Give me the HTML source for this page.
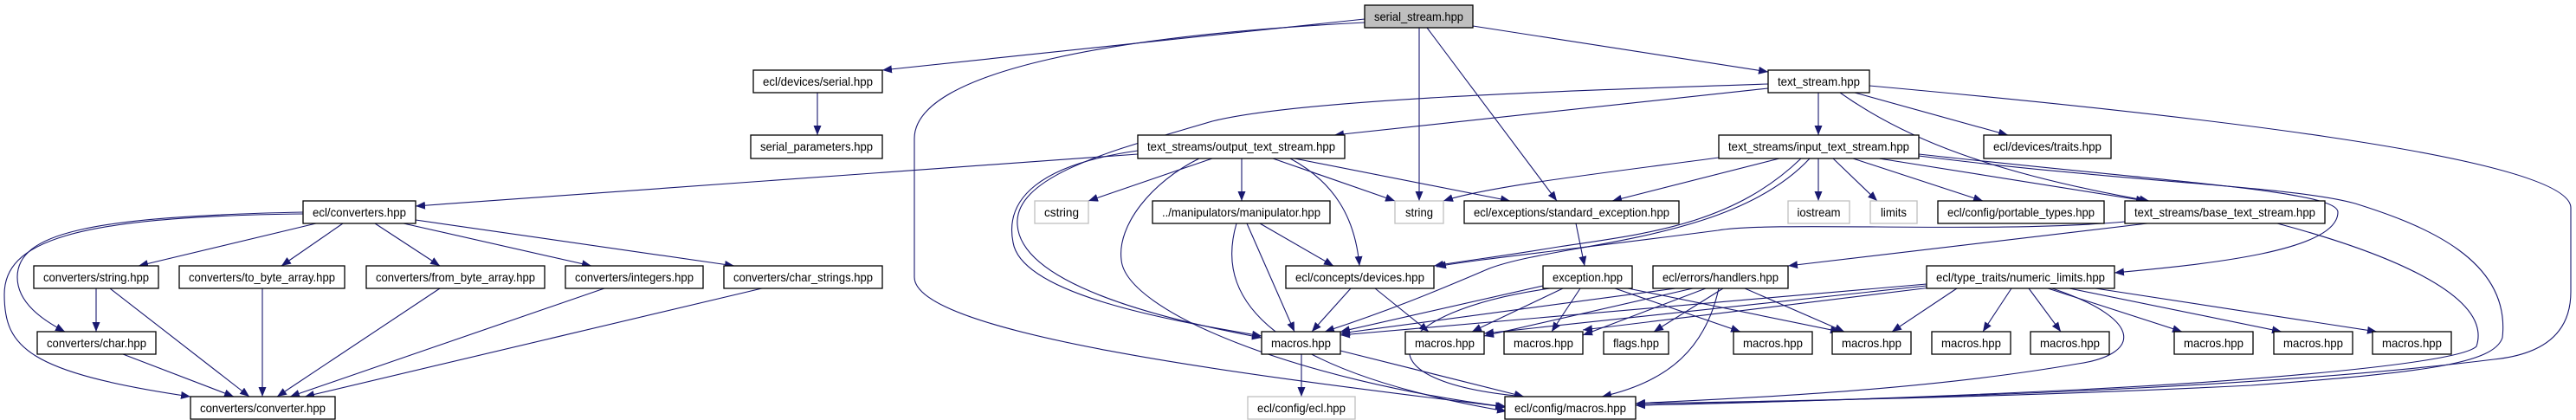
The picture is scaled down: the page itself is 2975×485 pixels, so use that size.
<!DOCTYPE html>
<html><head><meta charset="utf-8"><style>
html,body{margin:0;padding:0;background:#fff;}
svg{display:block;}
text{font-family:"Liberation Sans",sans-serif;font-size:14px;fill:#000;}
.n{fill:#fff;stroke:#000;stroke-width:1.3;}
.g{fill:#fff;stroke:#bfbfbf;stroke-width:1.3;}
.e{fill:none;stroke:#191970;stroke-width:1.1;marker-end:url(#a);}
</style></head><body>
<svg width="2975" height="485" viewBox="0 0 2975 485" xmlns="http://www.w3.org/2000/svg">
<defs><marker id="a" markerUnits="userSpaceOnUse" markerWidth="12" markerHeight="9" refX="11" refY="4.5" orient="auto"><path d="M0,0 L11,4.5 L0,9 z" fill="#191970"/></marker></defs>
<g>
<!-- edges -->
<path class="e" d="M1576,22 L1019,81"/>
<path class="e" d="M1576,26 C1300,40 1056,80 1056,160 L1056,320 C1056,390 1500,440 1738,470"/>
<path class="e" d="M1701,30 L2042,83"/>
<path class="e" d="M1639,32 L1639,232"/>
<path class="e" d="M1648,32 L1798,232"/>
<path class="e" d="M2042,102 L1541,156"/>
<path class="e" d="M2042,97 C1800,105 1500,115 1400,140 C1300,170 1170,200 1175,260 C1180,330 1350,370 1457,390"/>
<path class="e" d="M2100,107 L2100,156"/>
<path class="e" d="M2142,107 L2319,156"/>
<path class="e" d="M2125,107 C2200,160 2300,200 2482,232"/>
<path class="e" d="M2159,99 C2500,130 2969,180 2969,240 L2969,337 C2969,390 2930,410 2880,415 C2600,450 2200,460 1889,468"/>
<path class="e" d="M1314,178 L480,238"/>
<path class="e" d="M1400,183 L1257,232"/>
<path class="e" d="M1434,183 L1434,232"/>
<path class="e" d="M1470,183 L1611,232"/>
<path class="e" d="M1495,183 L1744,232"/>
<path class="e" d="M1490,183 C1540,210 1565,250 1570,307"/>
<path class="e" d="M1314,174 C1200,190 1160,230 1170,280 C1180,340 1350,370 1457,388"/>
<path class="e" d="M1385,183 C1330,210 1290,260 1295,300 C1300,360 1500,440 1740,470"/>
<path class="e" d="M1455,258 L1540,307"/>
<path class="e" d="M1440,258 L1495,383"/>
<path class="e" d="M1428,258 C1410,320 1420,420 1740,475"/>
<path class="e" d="M365,258 L160,307"/>
<path class="e" d="M396,258 L325,307"/>
<path class="e" d="M433,258 L508,307"/>
<path class="e" d="M466,258 L683,307"/>
<path class="e" d="M480,254 L848,307"/>
<path class="e" d="M350,245 C100,250 20,270 20,320 C20,350 50,370 75,383"/>
<path class="e" d="M350,247 C80,250 5,280 5,340 C5,400 30,430 220,458"/>
<path class="e" d="M111,333 L111,383"/>
<path class="e" d="M127,333 L288,458"/>
<path class="e" d="M303,333 L303,458"/>
<path class="e" d="M508,333 L320,458"/>
<path class="e" d="M698,333 L335,458"/>
<path class="e" d="M880,333 L352,458"/>
<path class="e" d="M142,409 L270,458"/>
<path class="e" d="M944,107 L944,156"/>
<path class="e" d="M1985,182 C1850,200 1720,215 1667,232"/>
<path class="e" d="M2055,183 L1862,232"/>
<path class="e" d="M2080,183 C2000,260 1900,270 1800,285 C1740,295 1700,300 1656,307"/>
<path class="e" d="M2090,183 C2000,280 1800,280 1720,310 C1650,340 1600,360 1530,383"/>
<path class="e" d="M2100,183 L2100,232"/>
<path class="e" d="M2117,183 L2168,232"/>
<path class="e" d="M2140,183 L2290,232"/>
<path class="e" d="M2170,183 L2478,232"/>
<path class="e" d="M2216,178 C2500,210 2700,220 2700,245 C2700,290 2550,305 2442,315"/>
<path class="e" d="M2216,180 C2450,210 2650,215 2720,235 C2800,260 2900,300 2890,390 C2880,420 2800,430 2600,445 C2300,460 2000,464 1889,466"/>
<path class="e" d="M1820,258 L1830,307"/>
<path class="e" d="M2454,256 C2300,270 2050,255 1984,266 C1800,290 1700,300 1659,308"/>
<path class="e" d="M2480,258 L2065,307"/>
<path class="e" d="M2630,258 C2750,290 2880,340 2860,400 C2840,420 2600,440 2400,450 C2200,460 2000,466 1889,468"/>
<path class="e" d="M1560,333 L1515,383"/>
<path class="e" d="M1588,333 L1650,383"/>
<path class="e" d="M1782,330 L1548,383"/>
<path class="e" d="M1805,333 L1700,383"/>
<path class="e" d="M1825,333 L1792,383"/>
<path class="e" d="M1865,333 L2010,383"/>
<path class="e" d="M1880,333 L2125,383"/>
<path class="e" d="M1790,333 C1600,360 1560,440 1760,458"/>
<path class="e" d="M1935,333 L1548,385"/>
<path class="e" d="M1955,333 L1714,388"/>
<path class="e" d="M1970,333 L1828,387"/>
<path class="e" d="M1990,333 L1910,383"/>
<path class="e" d="M2015,333 L2130,383"/>
<path class="e" d="M1985,333 C1970,400 1930,440 1850,458"/>
<path class="e" d="M2225,328 L1548,387"/>
<path class="e" d="M2225,330 L1714,385"/>
<path class="e" d="M2230,332 L1828,381"/>
<path class="e" d="M2260,333 L2185,383"/>
<path class="e" d="M2323,333 L2290,383"/>
<path class="e" d="M2343,333 L2380,383"/>
<path class="e" d="M2365,333 L2520,383"/>
<path class="e" d="M2390,333 L2635,383"/>
<path class="e" d="M2420,333 L2745,383"/>
<path class="e" d="M2370,333 C2480,370 2470,410 2400,420 C2200,455 1950,462 1889,466"/>
<path class="e" d="M1503,409 L1503,458"/>
<path class="e" d="M1548,405 L1760,458"/>
</g>
<g>
<!-- nodes: x1,x2,y1,y2 -->
<rect x="1576" y="6" width="125" height="26" fill="#bfbfbf" stroke="#000" stroke-width="1.3"/><text x="1638.5" y="24" text-anchor="middle" textLength="103" lengthAdjust="spacingAndGlyphs">serial_stream.hpp</text>
<rect class="n" x="870" y="81" width="149" height="26"/><text x="944.5" y="99" text-anchor="middle" textLength="127" lengthAdjust="spacingAndGlyphs">ecl/devices/serial.hpp</text>
<rect class="n" x="2042" y="81" width="117" height="26"/><text x="2100.5" y="99" text-anchor="middle" textLength="95" lengthAdjust="spacingAndGlyphs">text_stream.hpp</text>
<rect class="n" x="867" y="156" width="152" height="27"/><text x="943" y="174" text-anchor="middle" textLength="130" lengthAdjust="spacingAndGlyphs">serial_parameters.hpp</text>
<rect class="n" x="1314" y="156" width="239" height="27"/><text x="1433.5" y="174" text-anchor="middle" textLength="217" lengthAdjust="spacingAndGlyphs">text_streams/output_text_stream.hpp</text>
<rect class="n" x="1985" y="156" width="231" height="27"/><text x="2100.5" y="174" text-anchor="middle" textLength="209" lengthAdjust="spacingAndGlyphs">text_streams/input_text_stream.hpp</text>
<rect class="n" x="2291" y="156" width="147" height="27"/><text x="2364.5" y="174" text-anchor="middle" textLength="125" lengthAdjust="spacingAndGlyphs">ecl/devices/traits.hpp</text>
<rect class="n" x="350" y="232" width="130" height="26"/><text x="415" y="250" text-anchor="middle" textLength="108" lengthAdjust="spacingAndGlyphs">ecl/converters.hpp</text>
<rect class="g" x="1195" y="232" width="62" height="26"/><text x="1226" y="250" text-anchor="middle" textLength="40" lengthAdjust="spacingAndGlyphs">cstring</text>
<rect class="n" x="1331" y="232" width="205" height="26"/><text x="1433.5" y="250" text-anchor="middle" textLength="183" lengthAdjust="spacingAndGlyphs">../manipulators/manipulator.hpp</text>
<rect class="g" x="1611" y="232" width="56" height="26"/><text x="1639" y="250" text-anchor="middle" textLength="32" lengthAdjust="spacingAndGlyphs">string</text>
<rect class="n" x="1691" y="232" width="248" height="26"/><text x="1815" y="250" text-anchor="middle" textLength="226" lengthAdjust="spacingAndGlyphs">ecl/exceptions/standard_exception.hpp</text>
<rect class="g" x="2065" y="232" width="71" height="26"/><text x="2100.5" y="250" text-anchor="middle" textLength="50" lengthAdjust="spacingAndGlyphs">iostream</text>
<rect class="g" x="2160" y="232" width="54" height="26"/><text x="2187" y="250" text-anchor="middle" textLength="30" lengthAdjust="spacingAndGlyphs">limits</text>
<rect class="n" x="2238" y="232" width="192" height="26"/><text x="2334" y="250" text-anchor="middle" textLength="170" lengthAdjust="spacingAndGlyphs">ecl/config/portable_types.hpp</text>
<rect class="n" x="2454" y="232" width="231" height="26"/><text x="2569.5" y="250" text-anchor="middle" textLength="209" lengthAdjust="spacingAndGlyphs">text_streams/base_text_stream.hpp</text>
<rect class="n" x="39" y="307" width="144" height="26"/><text x="111" y="325" text-anchor="middle" textLength="122" lengthAdjust="spacingAndGlyphs">converters/string.hpp</text>
<rect class="n" x="207" y="307" width="191" height="26"/><text x="302.5" y="325" text-anchor="middle" textLength="169" lengthAdjust="spacingAndGlyphs">converters/to_byte_array.hpp</text>
<rect class="n" x="423" y="307" width="206" height="26"/><text x="526" y="325" text-anchor="middle" textLength="184" lengthAdjust="spacingAndGlyphs">converters/from_byte_array.hpp</text>
<rect class="n" x="653" y="307" width="159" height="26"/><text x="732.5" y="325" text-anchor="middle" textLength="137" lengthAdjust="spacingAndGlyphs">converters/integers.hpp</text>
<rect class="n" x="836" y="307" width="183" height="26"/><text x="927.5" y="325" text-anchor="middle" textLength="161" lengthAdjust="spacingAndGlyphs">converters/char_strings.hpp</text>
<rect class="n" x="1485" y="307" width="171" height="26"/><text x="1570.5" y="325" text-anchor="middle" textLength="149" lengthAdjust="spacingAndGlyphs">ecl/concepts/devices.hpp</text>
<rect class="n" x="1782" y="307" width="103" height="26"/><text x="1833.5" y="325" text-anchor="middle" textLength="81" lengthAdjust="spacingAndGlyphs">exception.hpp</text>
<rect class="n" x="1909" y="307" width="156" height="26"/><text x="1987" y="325" text-anchor="middle" textLength="134" lengthAdjust="spacingAndGlyphs">ecl/errors/handlers.hpp</text>
<rect class="n" x="2225" y="307" width="217" height="26"/><text x="2333.5" y="325" text-anchor="middle" textLength="195" lengthAdjust="spacingAndGlyphs">ecl/type_traits/numeric_limits.hpp</text>
<rect class="n" x="43" y="383" width="137" height="26"/><text x="111.5" y="401" text-anchor="middle" textLength="115" lengthAdjust="spacingAndGlyphs">converters/char.hpp</text>
<rect class="n" x="1457" y="383" width="91" height="26"/><text x="1502.5" y="401" text-anchor="middle" textLength="69" lengthAdjust="spacingAndGlyphs">macros.hpp</text>
<rect class="n" x="1623" y="383" width="91" height="26"/><text x="1668.5" y="401" text-anchor="middle" textLength="69" lengthAdjust="spacingAndGlyphs">macros.hpp</text>
<rect class="n" x="1737" y="383" width="91" height="26"/><text x="1782.5" y="401" text-anchor="middle" textLength="69" lengthAdjust="spacingAndGlyphs">macros.hpp</text>
<rect class="n" x="1852" y="383" width="75" height="26"/><text x="1889.5" y="401" text-anchor="middle" textLength="53" lengthAdjust="spacingAndGlyphs">flags.hpp</text>
<rect class="n" x="2002" y="383" width="91" height="26"/><text x="2047.5" y="401" text-anchor="middle" textLength="69" lengthAdjust="spacingAndGlyphs">macros.hpp</text>
<rect class="n" x="2116" y="383" width="91" height="26"/><text x="2161.5" y="401" text-anchor="middle" textLength="69" lengthAdjust="spacingAndGlyphs">macros.hpp</text>
<rect class="n" x="2231" y="383" width="91" height="26"/><text x="2276.5" y="401" text-anchor="middle" textLength="69" lengthAdjust="spacingAndGlyphs">macros.hpp</text>
<rect class="n" x="2345" y="383" width="91" height="26"/><text x="2390.5" y="401" text-anchor="middle" textLength="69" lengthAdjust="spacingAndGlyphs">macros.hpp</text>
<rect class="n" x="2511" y="383" width="91" height="26"/><text x="2556.5" y="401" text-anchor="middle" textLength="69" lengthAdjust="spacingAndGlyphs">macros.hpp</text>
<rect class="n" x="2626" y="383" width="91" height="26"/><text x="2671.5" y="401" text-anchor="middle" textLength="69" lengthAdjust="spacingAndGlyphs">macros.hpp</text>
<rect class="n" x="2740" y="383" width="91" height="26"/><text x="2785.5" y="401" text-anchor="middle" textLength="69" lengthAdjust="spacingAndGlyphs">macros.hpp</text>
<rect class="n" x="220" y="458" width="167" height="26"/><text x="303.5" y="476" text-anchor="middle" textLength="145" lengthAdjust="spacingAndGlyphs">converters/converter.hpp</text>
<rect class="g" x="1441" y="458" width="124" height="26"/><text x="1503" y="476" text-anchor="middle" textLength="102" lengthAdjust="spacingAndGlyphs">ecl/config/ecl.hpp</text>
<rect class="n" x="1738" y="458" width="151" height="26"/><text x="1813.5" y="476" text-anchor="middle" textLength="129" lengthAdjust="spacingAndGlyphs">ecl/config/macros.hpp</text>
</g>
</svg>
</body></html>
